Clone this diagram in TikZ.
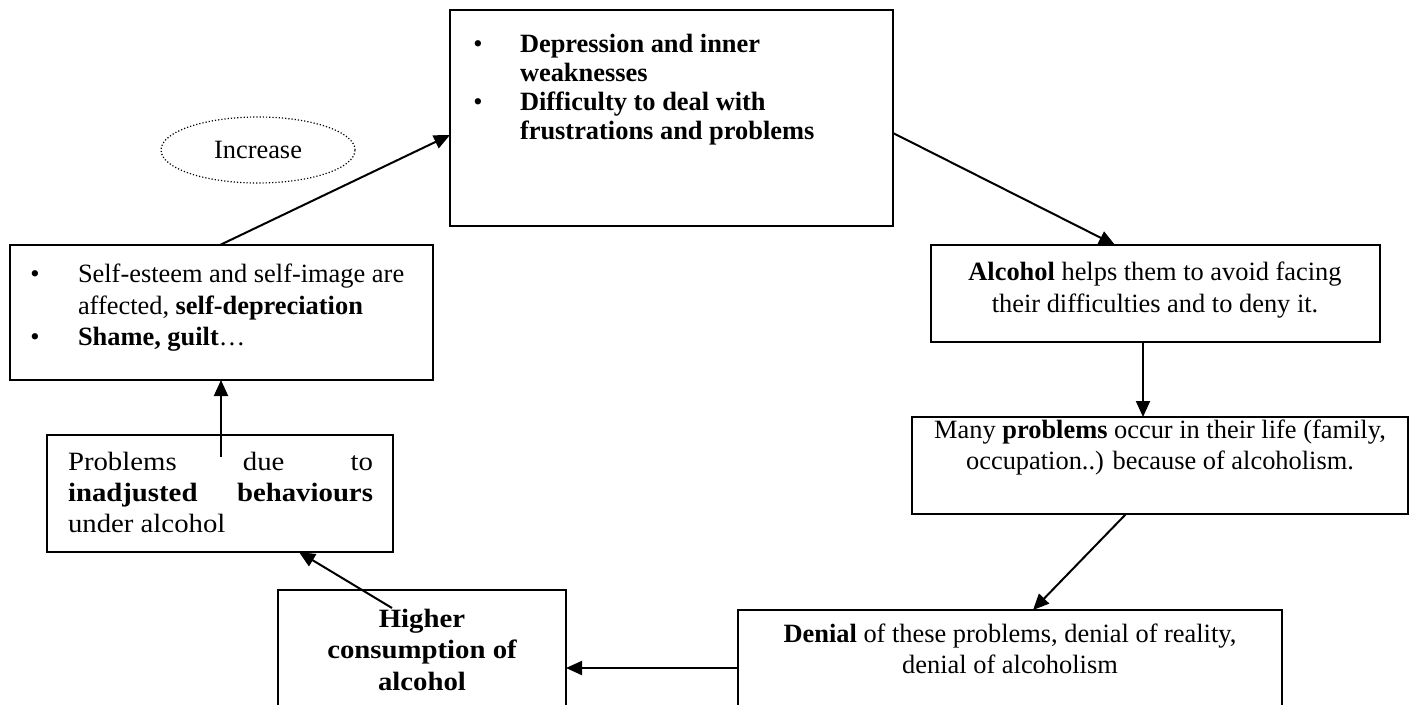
\documentclass[tikz,border=0pt]{standalone}
\usepackage{fontspec}
\setmainfont{Liberation Serif}
\newfontfamily\palfont[FakeStretch=1.09]{Liberation Serif}
\usetikzlibrary{arrows.meta,calc,shapes.geometric}
\newcommand\mainsz{\fontsize{26.4}{31}\selectfont}
\begin{document}
\begin{tikzpicture}[x=1pt,y=-1pt,
  box/.style={draw, line width=1.4pt, inner sep=0pt, outer sep=0pt, anchor=north west},
  thickbox/.style={box, line width=2.6pt},
  txt/.style={inner sep=0pt, outer sep=0pt, anchor=base west, font=\mainsz},
  ctxt/.style={inner sep=0pt, outer sep=0pt, anchor=base, font=\mainsz},
  ptxt/.style={inner sep=0pt, outer sep=0pt, anchor=base west, font=\palfont\fontsize{26.4}{31}\selectfont},
  pctxt/.style={inner sep=0pt, outer sep=0pt, anchor=base, font=\palfont\fontsize{26.4}{31}\selectfont\bfseries},
  bul/.style={inner sep=0pt, outer sep=0pt, anchor=base, font=\mainsz},
  arr/.style={line width=2pt, -{Triangle[length=16pt,width=14pt]}}]
\useasboundingbox (0,0) rectangle (1415,704);
\clip (0,0) rectangle (1415,704);
\fill[white] (0,0) rectangle (1415,704);

% top box
\node[thickbox, minimum width=443pt, minimum height=216pt] (top) at (450,10) {};
\node[bul] (tb1) at (478,52) {\textbullet};
\node[txt] (tl1) at (520,52) {\textbf{Depression and inner}};
\node[txt] (tl2) at (520,81) {\textbf{weaknesses}};
\node[bul] (tb2) at (478,110) {\textbullet};
\node[txt] (tl3) at (520,110) {\textbf{Difficulty to deal with}};
\node[txt] (tl4) at (520,139) {\textbf{frustrations and problems}};

% ellipse
\node[draw, dotted, ellipse, line width=1.2pt, minimum width=194pt, minimum height=66pt, font=\mainsz] (inc) at (258,150) {Increase};

% self-esteem box
\node[box, minimum width=423pt, minimum height=135pt] (self) at (10,245) {};
\node[bul] (sb1) at (35,282) {\textbullet};
\node[txt] (sl1) at (78,282) {Self-esteem and self-image are};
\node[txt] (sl2) at (78,314) {affected, \textbf{self-depreciation}};
\node[bul] (sb2) at (35,345) {\textbullet};
\node[txt] (sl3) at (78,345) {\textbf{Shame, guilt}…};

% problems due box
\node[box, minimum width=346pt, minimum height=117pt] (prob) at (47,435) {};
\node[ptxt] (pl1) at (68,470) {\makebox[305pt][s]{Problems due to}};
\node[ptxt] (pl2) at (68,501) {\makebox[305pt][s]{\bfseries inadjusted behaviours}};
\node[ptxt] (pl3) at (68,532) {under alcohol};

% higher consumption box
\node[box, minimum width=288pt, minimum height=130pt] (high) at (278,590) {};
\node[pctxt] (hl1) at (422,627) {Higher};
\node[pctxt] (hl2) at (422,658) {consumption of};
\node[pctxt] (hl3) at (422,690) {alcohol};

% denial box
\node[box, minimum width=544pt, minimum height=110pt] (den) at (738,610) {};
\node[ctxt] (dl1) at (1010,642) {\textbf{Denial} of these problems, denial of reality,};
\node[ctxt] (dl2) at (1010,673) {denial of alcoholism};

% alcohol box
\node[box, minimum width=449pt, minimum height=97pt] (alc) at (931,245) {};
\node[ctxt] (al1) at (1155,280) {\textbf{Alcohol} helps them to avoid facing};
\node[ctxt] (al2) at (1155,312) {their difficulties and to deny it.};

% many problems box
\node[box, minimum width=496pt, minimum height=97pt] (many) at (912,417) {};
\node[ctxt] (ml1) at (1160,438) {Many \textbf{problems} occur in their life (family,};
\node[ctxt] (ml2) at (1160,469) {occupation..) because of alcoholism.};

% connectors
\draw[arr] ([xshift=210pt]self.north west) -- ([yshift=-125pt]top.north west);
\draw[arr] ([yshift=-123pt]top.north east) -- ([xshift=184pt]alc.north west);
\draw[arr] ([xshift=212pt]alc.south west) -- ([xshift=231pt]many.north west);
\draw[arr] ([xshift=214pt]many.south west) -- ([xshift=295pt]den.north west);
\draw[arr] ([yshift=-58pt]den.north west) -- ([yshift=-78pt]high.north east);
\draw[arr] ([xshift=114pt,yshift=-18pt]high.north west) -- ([xshift=252pt]prob.south west);
\draw[arr] ([xshift=174pt,yshift=-22pt]prob.north west) -- ([xshift=211pt]self.south west);
\end{tikzpicture}
\end{document}
